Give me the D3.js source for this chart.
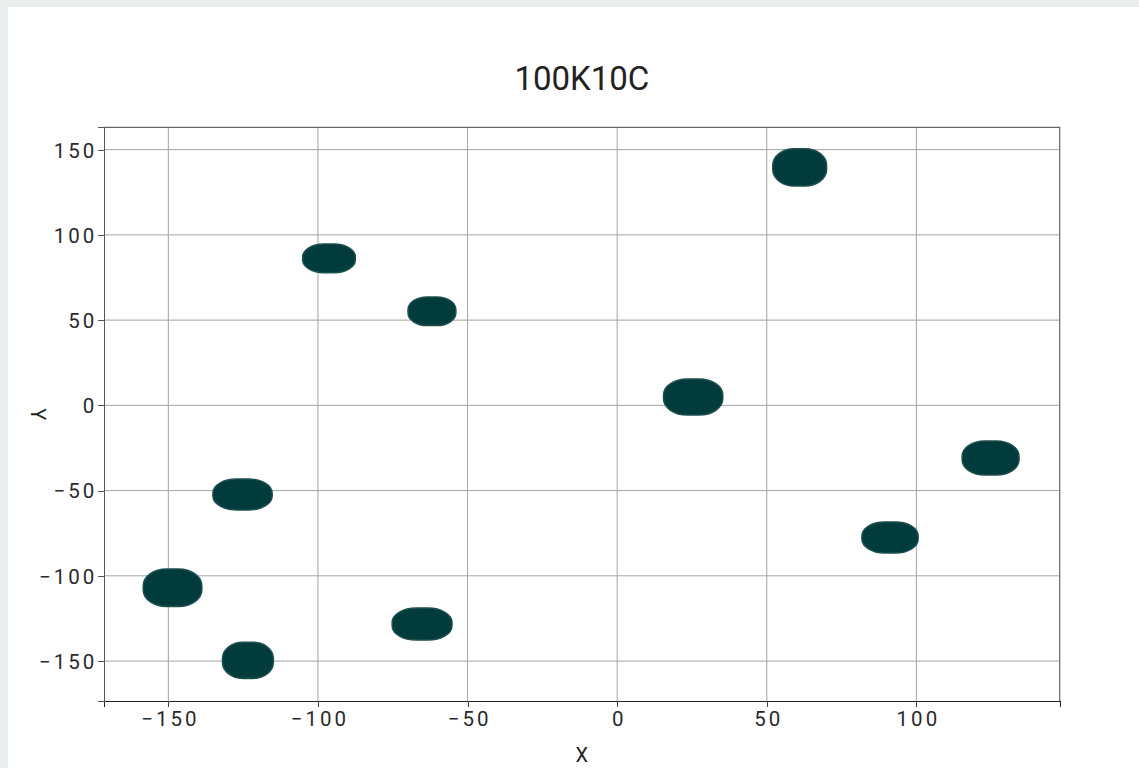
<!DOCTYPE html>
<html>
<head>
<meta charset="utf-8">
<script src="https://cdn.jsdelivr.net/npm/d3@7"></script>
<style>
  html, body { margin: 0; padding: 0; background: #e9eded; }
  svg { display: block; }
  text { font-family: Roboto, "Noto Sans", sans-serif; }
</style>
</head>
<body>
<svg id="chart" width="1139" height="768"></svg>
<script>
// ---- data ----
const title = "100K10C";
const xLabel = "X";
const yLabel = "Y";
const xTicks = [-150, -100, -50, 0, 50, 100];
const yTicks = [-150, -100, -50, 0, 50, 100, 150];
const xDomain = [-171.5, 147.9];
const yDomain = [-173.6, 163.1];
// cluster centres and half extents (data units)
const clusterX  = [-96.3, -61.9, 61.0, 25.4, 124.8, 91.2, -65.2, -125.2, -148.6, -123.4];
const clusterY  = [86.2, 55.2, 139.6, 4.9, -30.9, -77.5, -128.3, -52.3, -107.0, -149.6];
const clusterHX = [8.8, 8.0, 9.0, 9.9, 9.5, 9.4, 10.0, 9.9, 9.8, 8.5];
const clusterHY = [8.4, 8.4, 10.9, 10.6, 10.0, 9.1, 9.4, 9.1, 11.0, 10.6];

(function () {
const svg = d3.select("#chart");
const W = 1139, H = 768;
const mLeft = 104, mRight = 1059.7, mTop = 127.3, mBottom = 701.3;

svg.append("rect").attr("x", 8).attr("y", 7).attr("width", W - 8).attr("height", H - 7).attr("fill", "#ffffff");

const x = d3.scaleLinear().domain(xDomain).range([mLeft, mRight]);
const y = d3.scaleLinear().domain(yDomain).range([mBottom, mTop]);

// grid
const grid = svg.append("g");
grid.selectAll("line.v").data(xTicks).join("line").attr("class", "v")
  .attr("x1", d => x(d)).attr("x2", d => x(d))
  .attr("y1", mTop).attr("y2", mBottom)
  .attr("stroke", "#a3a3a3").attr("stroke-width", 1);
grid.selectAll("line.h").data(yTicks).join("line").attr("class", "h")
  .attr("x1", mLeft).attr("x2", mRight)
  .attr("y1", d => y(d)).attr("y2", d => y(d))
  .attr("stroke", "#a3a3a3").attr("stroke-width", 1);

// frame top/right
svg.append("path")
  .attr("d", `M${mLeft},${mTop}H${mRight}V${mBottom}`)
  .attr("fill", "none").attr("stroke", "#666").attr("stroke-width", 1.2);

// clusters (rounded blobs spanning each cluster's extent)
const clusters = clusterX.map((cx, i) => ({cx, cy: clusterY[i], hx: clusterHX[i], hy: clusterHY[i]}));
svg.append("g").selectAll("rect").data(clusters).join("rect")
  .attr("x", d => x(d.cx - d.hx))
  .attr("y", d => y(d.cy + d.hy))
  .attr("width", d => x(d.cx + d.hx) - x(d.cx - d.hx))
  .attr("height", d => y(d.cy - d.hy) - y(d.cy + d.hy))
  .attr("rx", d => (x(d.cx + d.hx) - x(d.cx)) * 0.8)
  .attr("ry", d => (y(d.cy) - y(d.cy + d.hy)) * 0.9)
  .attr("fill", "#023b3b")
  .attr("stroke", "#1d4f4f")
  .attr("stroke-width", 1.5);

// axes
const ls = 3;
const xAxis = svg.append("g").attr("transform", `translate(0,${mBottom})`)
  .call(d3.axisBottom(x).tickValues(xTicks).tickSize(6).tickSizeOuter(6).tickFormat(d3.format("d")));
xAxis.select(".domain").attr("stroke", "#222").attr("stroke-width", 1.3);
xAxis.selectAll(".tick line").attr("stroke", "#444");
xAxis.selectAll(".tick text")
  .attr("y", 24.7).attr("dy", 0).attr("dx", ls / 2)
  .style("font-size", "20.5px").style("letter-spacing", ls + "px")
  .attr("fill", "#2a2a2a");

const yAxis = svg.append("g").attr("transform", `translate(${mLeft},0)`)
  .call(d3.axisLeft(y).tickValues(yTicks).tickSize(6).tickSizeOuter(6).tickFormat(d3.format("d")));
yAxis.select(".domain").attr("stroke", "#555").attr("stroke-width", 1.3);
yAxis.selectAll(".tick line").attr("stroke", "#555");
yAxis.selectAll(".tick text")
  .attr("x", -6.7).attr("dy", "0.36em")
  .style("font-size", "20.5px").style("letter-spacing", ls + "px")
  .attr("fill", "#2a2a2a");
svg.selectAll(".domain, .tick line").attr("shape-rendering", "crispEdges");

// title & labels
const cxPlot = (mLeft + mRight) / 2;
svg.append("text").attr("x", cxPlot).attr("y", 90)
  .attr("text-anchor", "middle").style("font-size", "33px").attr("fill", "#222").text(title);
svg.append("text").attr("x", cxPlot).attr("y", 762)
  .attr("text-anchor", "middle").style("font-size", "20px").attr("fill", "#222").text(xLabel);
svg.append("text")
  .attr("transform", `translate(31,${(mTop + mBottom) / 2}) rotate(90)`)
  .attr("text-anchor", "middle").style("font-size", "20px").attr("fill", "#222").text(yLabel);
})();
</script>
</body>
</html>
